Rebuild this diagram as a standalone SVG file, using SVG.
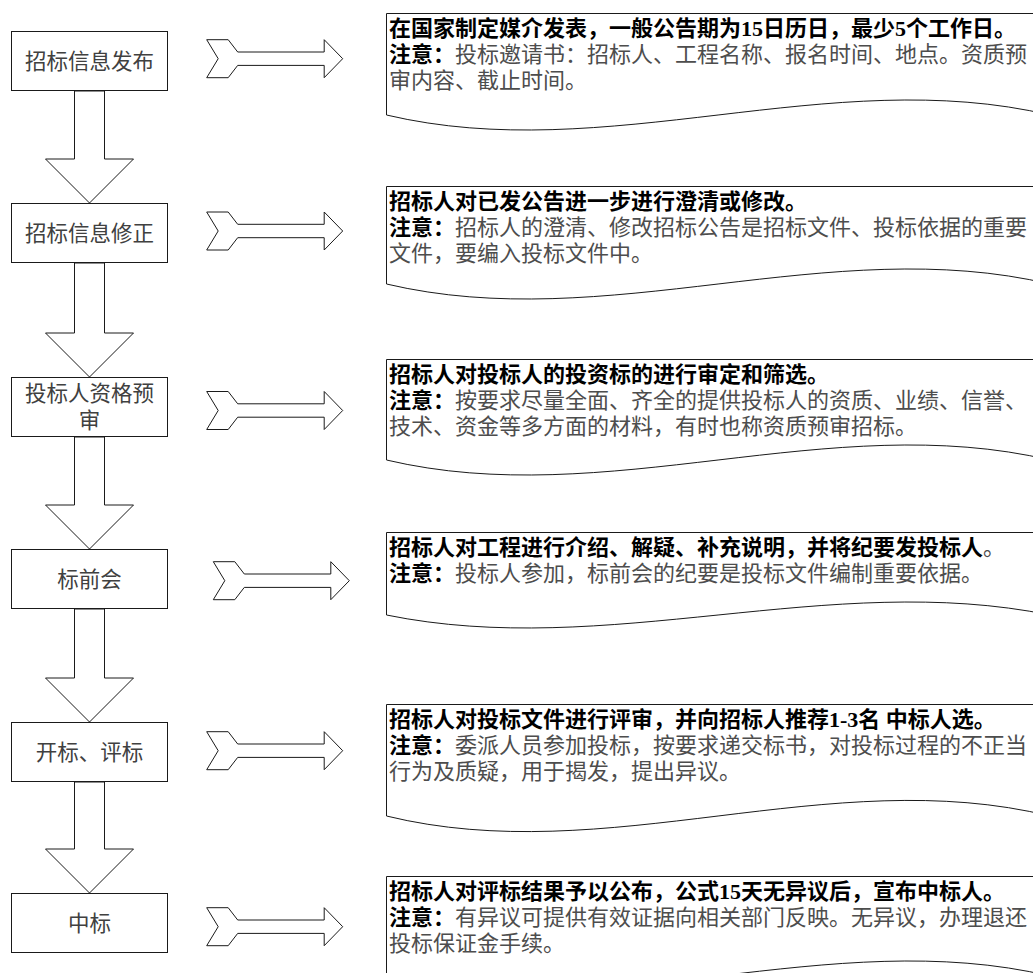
<svg xmlns="http://www.w3.org/2000/svg" xmlns:xlink="http://www.w3.org/1999/xlink" width="1033" height="973" viewBox="0 0 1033 973">
<style>
  .box{fill:#fff;stroke:#1a1a1a;stroke-width:1}
  .doc{fill:#fff;stroke:#1a1a1a;stroke-width:1}
  .arr{fill:#fff;stroke:#1a1a1a;stroke-width:1;stroke-linejoin:miter}
  .bt{font-family:"Liberation Sans","Noto Sans CJK SC",sans-serif;font-size:21.5px;fill:#404040;text-anchor:middle}
  .dt{font-family:"Liberation Serif","Noto Sans CJK SC",serif;font-size:22px;fill:#4d4d4d}
  .b{font-weight:bold;fill:#000}
</style>
<defs>
  <path id="rarrow" class="arr" d="M0,-19 L21.5,-19 L31,-6.7 L117.5,-6.7 L117.5,-19 L136,0 L117.5,19 L117.5,6.7 L31,6.7 L21.5,19 L0,19 L11.5,0 Z"/>
</defs>
<rect width="1033" height="973" fill="#fff"/>
<g id="connectors">
  <polygon class="arr" points="74.5,91 74.5,159 45.5,159 89.5,203 133.5,159 104.5,159 104.5,91"/>
  <polygon class="arr" points="74.5,263 74.5,333 45.5,333 89.5,377 133.5,333 104.5,333 104.5,263"/>
  <polygon class="arr" points="74.5,437 74.5,505 45.5,505 89.5,549 133.5,505 104.5,505 104.5,437"/>
  <polygon class="arr" points="74.5,609 74.5,678 45.5,678 89.5,722 133.5,678 104.5,678 104.5,609"/>
  <polygon class="arr" points="74.5,782 74.5,849 45.5,849 89.5,893 133.5,849 104.5,849 104.5,782"/>
  <use xlink:href="#rarrow" x="206.7" y="58.7"/>
  <use xlink:href="#rarrow" x="206.7" y="231"/>
  <use xlink:href="#rarrow" x="206.7" y="410.5"/>
  <use xlink:href="#rarrow" x="213.3" y="580.7"/>
  <use xlink:href="#rarrow" x="206.7" y="750.7"/>
  <use xlink:href="#rarrow" x="206.7" y="926.7"/>
</g>
<g id="step1">
  <rect class="box" x="11.5" y="31.5" width="156" height="59"/>
  <text class="bt" x="89.5" y="69">招标信息发布</text>
</g>
<g id="step2">
  <rect class="box" x="11.5" y="203.5" width="156" height="59"/>
  <text class="bt" x="89.5" y="241">招标信息修正</text>
</g>
<g id="step3">
  <rect class="box" x="11.5" y="377.5" width="156" height="59"/>
  <text class="bt" x="89.5" y="400.5">投标人资格预</text>
  <text class="bt" x="89.5" y="428">审</text>
</g>
<g id="step4">
  <rect class="box" x="11.5" y="549.5" width="156" height="59"/>
  <text class="bt" x="89.5" y="587">标前会</text>
</g>
<g id="step5">
  <rect class="box" x="11.5" y="722.5" width="156" height="59"/>
  <text class="bt" x="89.5" y="760">开标、评标</text>
</g>
<g id="step6">
  <rect class="box" x="11.5" y="893.5" width="156" height="59"/>
  <text class="bt" x="89.5" y="931">中标</text>
</g>
<g id="note1">
  <path class="doc" d="M386.5,13.5 H1050 V115 C829,63 607,167 386.5,115 Z"/>
  <text class="dt" x="389" y="36"><tspan class="b">在国家制定媒介发表，一般公告期为15日历日，最少5个工作日。</tspan></text>
  <text class="dt" x="389" y="62"><tspan class="b">注意：</tspan>投标邀请书：招标人、工程名称、报名时间、地点。资质预</text>
  <text class="dt" x="389" y="88">审内容、截止时间。</text>
</g>
<g id="note2">
  <path class="doc" d="M386.5,186.5 H1050 V284 C829,232 607,336 386.5,284 Z"/>
  <text class="dt" x="389" y="209"><tspan class="b">招标人对已发公告进一步进行澄清或修改。</tspan></text>
  <text class="dt" x="389" y="235"><tspan class="b">注意：</tspan>招标人的澄清、修改招标公告是招标文件、投标依据的重要</text>
  <text class="dt" x="389" y="261">文件，要编入投标文件中。</text>
</g>
<g id="note3">
  <path class="doc" d="M386.5,359.5 H1050 V460 C829,408 607,512 386.5,460 Z"/>
  <text class="dt" x="389" y="382"><tspan class="b">招标人对投标人的投资标的进行审定和筛选。</tspan></text>
  <text class="dt" x="389" y="408"><tspan class="b">注意：</tspan>按要求尽量全面、齐全的提供投标人的资质、业绩、信誉、</text>
  <text class="dt" x="389" y="434">技术、资金等多方面的材料，有时也称资质预审招标。</text>
</g>
<g id="note4">
  <path class="doc" d="M386.5,532.5 H1050 V615 C829,570 607,660 386.5,615 Z"/>
  <text class="dt" x="389" y="555"><tspan class="b">招标人对工程进行介绍、解疑、补充说明，并将纪要发投标人</tspan>。</text>
  <text class="dt" x="389" y="581"><tspan class="b">注意：</tspan>投标人参加，标前会的纪要是投标文件编制重要依据。</text>
</g>
<g id="note5">
  <path class="doc" d="M386.5,704.5 H1050 V816 C829,762 607,870 386.5,816 Z"/>
  <text class="dt" x="389" y="727"><tspan class="b">招标人对投标文件进行评审，并向招标人推荐1-3名 中标人选。</tspan></text>
  <text class="dt" x="389" y="753"><tspan class="b">注意：</tspan>委派人员参加投标，按要求递交标书，对投标过程的不正当</text>
  <text class="dt" x="389" y="779">行为及质疑，用于揭发，提出异议。</text>
</g>
<g id="note6">
  <path class="doc" d="M386.5,876.5 H1050 V976 C829,924 607,1028 386.5,976 Z"/>
  <text class="dt" x="389" y="899"><tspan class="b">招标人对评标结果予以公布，公式15天无异议后，宣布中标人。</tspan></text>
  <text class="dt" x="389" y="925"><tspan class="b">注意：</tspan>有异议可提供有效证据向相关部门反映。无异议，办理退还</text>
  <text class="dt" x="389" y="951">投标保证金手续。</text>
</g>
</svg>
